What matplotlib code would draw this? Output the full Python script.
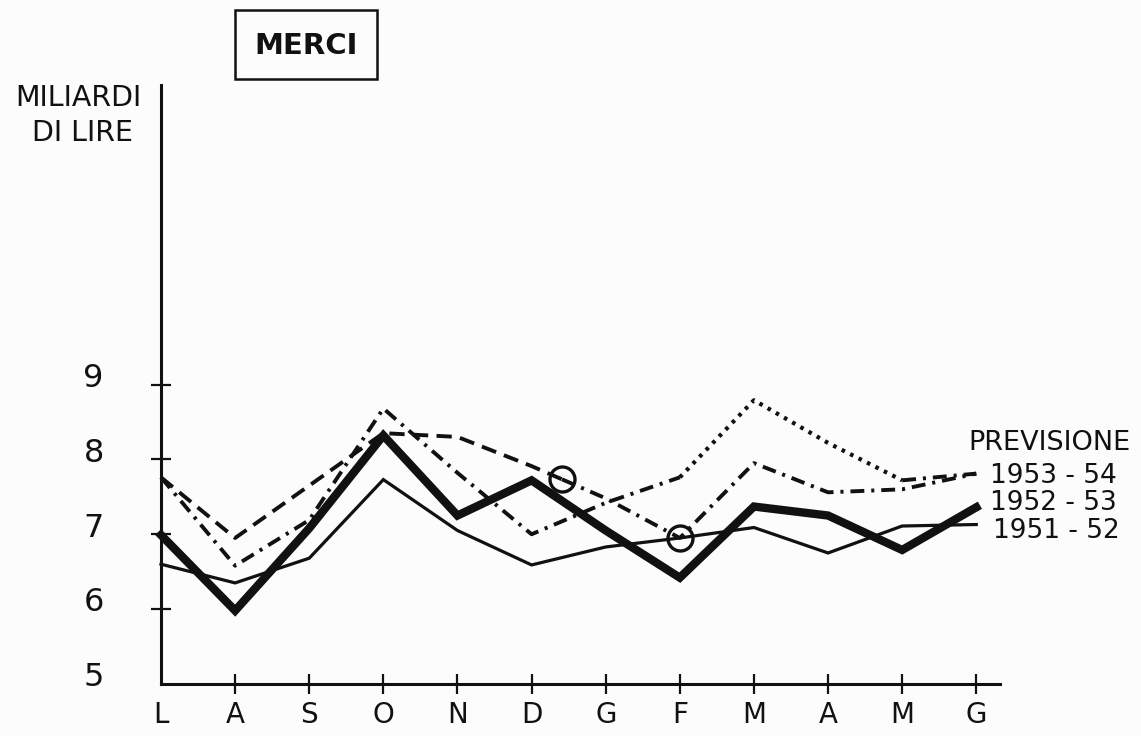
import numpy as np
import matplotlib
matplotlib.use("Agg")
import matplotlib.pyplot as plt
from matplotlib.transforms import ScaledTranslation
from matplotlib.patches import Rectangle

# ---------------- data ----------------
months = ["L", "A", "S", "O", "N", "D", "G", "F", "M", "A", "M", "G"]
y_ticks = [5, 6, 7, 8, 9]

merci_1951_52 = [6.60, 6.35, 6.68, 7.73, 7.05, 6.59, 6.83, 6.95, 7.09, 6.75, 7.11, 7.13]
merci_1952_53 = [6.99, 5.98, 7.08, 8.32, 7.25, 7.72, 7.05, 6.42, 7.37, 7.25, 6.79, 7.36]
# forecast line drawn dashed, then dash-dot after the first circle
previsione_a = [7.76, 6.95, 7.65, 8.35, 8.30, 7.91, 7.48, 6.95, 7.95, 7.56, 7.60, 7.81]
# forecast line drawn dash-dot, then dotted from F to M
previsione_b = [7.76, 6.58, 7.19, 8.68, 7.82, 7.00, 7.42, 7.76, 8.79, 8.22, 7.72, 7.81]

legend_title = "PREVISIONE"
legend_labels = ["1953 - 54", "1952 - 53", "1951 - 52"]

plt.rcParams["font.family"] = ["DejaVu Sans"]
plt.rcParams["lines.scale_dashes"] = False

W, H = 1141, 736
fig = plt.figure(figsize=(W / 100, H / 100), dpi=100)
fig.patch.set_facecolor("#fcfcfc")

def fx(px):
    return px / W

def fy(py):
    return 1 - py / H

ax = fig.add_axes([fx(161), fy(684), (1000 - 161) / W, (684 - 85) / H])
ax.set_facecolor("none")
ax.set_xlim(0, 11.32)
ax.set_ylim(5, 13)

x = np.arange(len(months))
ink = "#111111"

DASHED = (0, (11, 6))
DASHDOT = (0, (10, 5, 2.2, 5))
DOTTED = (0, (2.6, 4.2))

common = dict(color=ink, clip_on=False, solid_joinstyle="miter", dash_capstyle="butt")

# actual series
ax.plot(x, merci_1951_52, lw=2.3, **common, zorder=3)
ax.plot(x, merci_1952_53, lw=6.0, **common, zorder=4)

# previsione A: dashed until switch point, dash-dot after
xs = 5.41
ys = np.interp(xs, x, previsione_a)
xa1 = list(x[:6]) + [xs]
ya1 = list(previsione_a[:6]) + [ys]
xa2 = [xs] + list(x[6:])
ya2 = [ys] + list(previsione_a[6:])
ax.plot(xa1, ya1, lw=2.8, ls=DASHED, **common, zorder=2)
ax.plot(xa2, ya2, lw=2.8, ls=DASHDOT, **common, zorder=2)

# previsione B: dash-dot to F, dotted to M, dash-dot to G
ax.plot(x[:8], previsione_b[:8], lw=2.8, ls=DASHDOT, **common, zorder=2)
ax.plot(x[7:11], previsione_b[7:11], lw=3.0, ls=DOTTED, **common, zorder=2)
ax.plot(x[10:], previsione_b[10:], lw=2.8, ls=DASHDOT, **common, zorder=2)

# circles on forecast line A
ax.plot([xs], [ys], marker="o", ms=18, mfc="none", mec=ink, mew=2.4, clip_on=False, zorder=5)
ax.plot([x[7]], [previsione_a[7]], marker="o", ms=18, mfc="none", mec=ink, mew=2.4,
        clip_on=False, zorder=5)

# axes styling
for s in ["top", "right"]:
    ax.spines[s].set_visible(False)
for s in ["left", "bottom"]:
    ax.spines[s].set_linewidth(2.2)
    ax.spines[s].set_color(ink)

ax.set_xticks(x)
ax.set_xticklabels(months, fontsize=20)
ax.set_yticks(y_ticks)
ax.set_yticklabels([str(v) for v in y_ticks], fontsize=23)
ax.tick_params(axis="both", direction="inout", length=14.4, width=1.6, colors=ink)
ax.tick_params(axis="x", pad=5)
ax.tick_params(axis="y", pad=34)
ax.xaxis.get_major_ticks()[0].tick1line.set_visible(False)
ax.yaxis.get_major_ticks()[0].tick1line.set_visible(False)

offset = ScaledTranslation(0, 7 / 72, fig.dpi_scale_trans)
for lab in ax.get_yticklabels():
    lab.set_transform(lab.get_transform() + offset)

# axis unit label
fig.text(fx(15), fy(98), "MILIARDI", fontsize=20.5, ha="left", va="center", color=ink)
fig.text(fx(32), fy(133), "DI LIRE", fontsize=20.5, ha="left", va="center", color=ink)

# title box
fig.patches.append(Rectangle((fx(235), fy(79)), 142 / W, 69 / H, transform=fig.transFigure,
                             fill=False, lw=1.8, edgecolor=ink))
fig.text(fx(306), fy(46), "MERCI", fontsize=21, fontweight="bold", ha="center", va="center",
         color=ink)

# labels on the right
fig.text(fx(968), fy(443), legend_title, fontsize=19.5, ha="left", va="center", color=ink)
for lab, ypx, xpx in zip(legend_labels, [476, 503, 531], [990, 990, 993]):
    fig.text(fx(xpx), fy(ypx), lab, fontsize=19, ha="left", va="center", color=ink)

fig.savefig("out.png", dpi=100, facecolor=fig.get_facecolor())
